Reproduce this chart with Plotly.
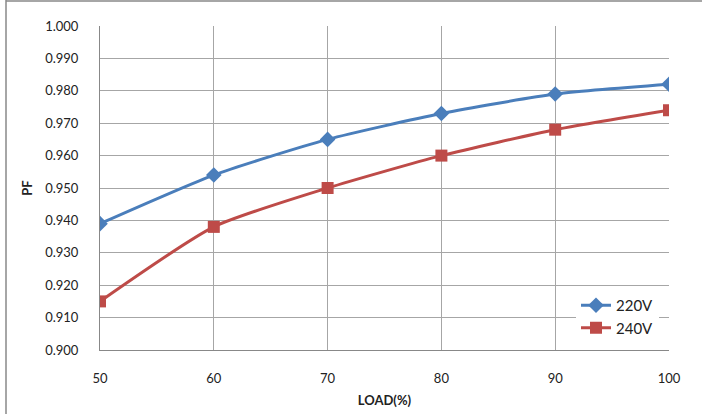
import plotly.graph_objects as go

load = [50, 60, 70, 80, 90, 100]
pf_220 = [0.939, 0.954, 0.965, 0.973, 0.979, 0.982]
pf_240 = [0.915, 0.938, 0.950, 0.960, 0.968, 0.974]
y_ticks = [0.900, 0.910, 0.920, 0.930, 0.940, 0.950, 0.960, 0.970, 0.980, 0.990, 1.000]

W, H = 702, 414
ml, mr, mt, mb = 100, 33, 26, 64
pw, ph = W - ml - mr, H - mt - mb

fig = go.Figure()
fig.add_trace(go.Scatter(
    x=load, y=pf_220, name="220V", mode="lines+markers",
    line=dict(color="#4A7EBB", width=3, shape="spline", smoothing=0.6),
    marker=dict(symbol="diamond", size=12, color="#4A7EBB"),
))
fig.add_trace(go.Scatter(
    x=load, y=pf_240, name="240V", mode="lines+markers",
    line=dict(color="#BE4B48", width=3, shape="spline", smoothing=0.6),
    marker=dict(symbol="square", size=12, color="#BE4B48"),
))

font = "Lato, 'Noto Sans', sans-serif"
fig.update_layout(
    width=W, height=H,
    margin=dict(l=ml, r=mr, t=mt, b=mb, autoexpand=False),
    paper_bgcolor="white", plot_bgcolor="white",
    font=dict(family=font, size=13, color="#222222"),
    showlegend=True,
    legend=dict(
        x=1 - 10 / pw, xanchor="right", y=6 / ph, yanchor="bottom",
        bgcolor="white", borderwidth=0,
        font=dict(size=15, family=font, color="#222222"),
        itemwidth=30,
    ),
    xaxis=dict(
        range=[50, 100], tickvals=load, ticktext=[str(v) for v in load],
        showgrid=True, gridcolor="#A6A6A6", gridwidth=1,
        showline=True, linecolor="#888888", linewidth=1,
        zeroline=False, ticks="", ticklabelstandoff=16, automargin=False,
        title=dict(text="<b>LOAD(%)</b>", font=dict(size=13), standoff=11),
    ),
    yaxis=dict(
        range=[0.900, 1.000], tickvals=y_ticks,
        ticktext=[f"{v:.3f}" for v in y_ticks],
        showgrid=True, gridcolor="#A6A6A6", gridwidth=1,
        showline=True, linecolor="#888888", linewidth=1,
        zeroline=False, ticks="", ticklabelstandoff=18, automargin=False,
        title=dict(text="<b>PF</b>", font=dict(size=13), standoff=9),
    ),
    shapes=[
        dict(type="line", xref="paper", yref="paper",
             x0=(6 - ml) / pw, x1=(6 - ml) / pw, y0=1 + mt / ph, y1=-mb / ph,
             line=dict(color="#888888", width=1.5)),
        dict(type="line", xref="paper", yref="paper",
             x0=(6 - ml) / pw, x1=1 + mr / pw, y0=1 + (mt - 1) / ph, y1=1 + (mt - 1) / ph,
             line=dict(color="#888888", width=1.5)),
    ],
)

fig.write_html(
    "out.html",
    config={"displayModeBar": False},
    post_script="document.body.style.margin='0';document.body.style.overflow='hidden';",
)
